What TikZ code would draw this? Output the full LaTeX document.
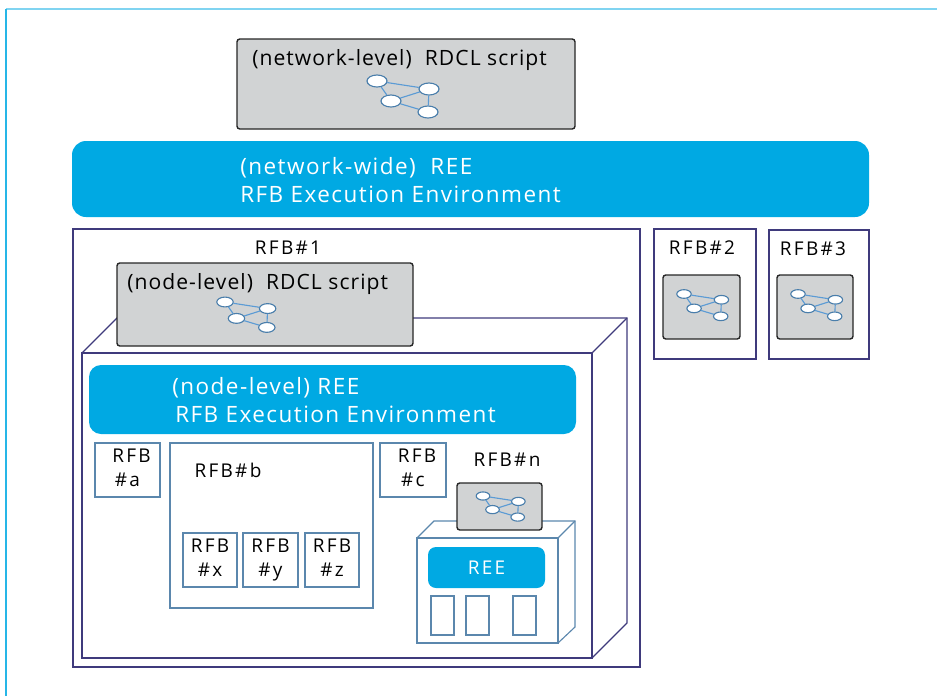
\documentclass[tikz,border=0pt]{standalone}
\usepackage{fontspec}
\setmainfont{Open Sans}
\usetikzlibrary{shapes.geometric}

\definecolor{reecyan}{HTML}{00A9E3}
\definecolor{scriptgray}{HTML}{D1D3D4}
\definecolor{outerline}{HTML}{3F3A7C}
\definecolor{innerline}{HTML}{5B87AD}
\definecolor{glyphline}{HTML}{5B9BD5}
\definecolor{glyphrim}{HTML}{4A7EAB}

\newcommand{\rfbfont}{\fontsize{13.5}{17}\selectfont\addfontfeature{LetterSpace=12}}

\tikzset{
	outerbox/.style={rectangle,draw=outerline,line width=.8pt,outer sep=0pt,above right},
	innerbox/.style={rectangle,draw=innerline,line width=.8pt,outer sep=0pt,above right,align=center,text depth=3pt,font=\rfbfont},
	scriptbox/.style={rectangle,draw=black!85,fill=scriptgray,rounded corners=2pt,line width=1pt,outer sep=0pt,above right},
	reebox/.style={rectangle,fill=reecyan,rounded corners=.35cm,outer sep=0pt,above right},
	reetext/.style={anchor=west,inner sep=0pt,align=left,text=white,font=\fontsize{16}{20}\selectfont\addfontfeature{LetterSpace=6.5}},
	scripttext/.style={anchor=west,inner sep=0pt,font=\fontsize{15}{17}\selectfont\addfontfeature{LetterSpace=5}},
	rfblabel/.style={inner sep=0pt,font=\rfbfont},
	glyphdot/.style={ellipse,draw=glyphrim,fill=white,line width=.8pt,inner sep=0pt,minimum width=.5cm,minimum height=.3cm,transform shape},
	glyphedge/.style={glyphline,line width=.8pt}
}

% small graph drawn inside a script box
\newcommand{\netglyph}[4]{
	\begin{scope}[shift={(#2,#3)},scale=#4]
		\node[glyphdot] (#1a) at (0,0) {};
		\node[glyphdot] (#1b) at (1.3,-.2) {};
		\node[glyphdot] (#1c) at (.35,-.5) {};
		\node[glyphdot] (#1d) at (1.275,-.775) {};
		\draw[glyphedge] (#1a) -- (#1b);
		\draw[glyphedge] (#1a) -- (#1c);
		\draw[glyphedge] (#1c) -- (#1b);
		\draw[glyphedge] (#1c) -- (#1d);
		\draw[glyphedge] (#1b) -- (#1d);
	\end{scope}
}

\begin{document}
\begin{tikzpicture}
	\useasboundingbox (0,0) rectangle (23.425,-17.4);

	% page frame
	\draw[reecyan!50,line width=.8pt] (23.425,-.225) -- (.15,-.225);
	\draw[reecyan!85,line width=.8pt] (.15,-.225) -- (.15,-17.4);

	% network level
	\node[scriptbox,minimum width=8.45cm,minimum height=2.25cm] (netscript) at (5.925,-3.225) {};
	\node[scripttext] (netscripttext) at (6.3,-1.5) {(network-level)\ \ RDCL script};
	\netglyph{net}{9.425}{-2.025}{1}
	\node[reebox,minimum width=19.925cm,minimum height=1.9cm] (netree) at (1.8,-5.425) {};
	\node[reetext] (netreetext) at (6,-4.5) {(network-wide)\ \ REE\\RFB Execution Environment};

	% RFB#1 and its cabinet
	\node[outerbox,minimum width=14.175cm,minimum height=10.95cm] (rfbone) at (1.825,-16.675) {};
	\node[rfblabel] (rfbonetext) at (7.2,-6.2) {RFB\#1};
	\node[outerbox,minimum width=12.75cm,minimum height=7.625cm] (cabinet) at (2.05,-16.45) {};
	\coordinate (cabinettl) at (2.925,-7.95);
	\coordinate (cabinettr) at (15.675,-7.95);
	\coordinate (cabinetbr) at (15.675,-15.575);
	\draw[outerline,line width=.8pt] (cabinet.north west) -- (cabinettl) -- (cabinettr) -- (cabinetbr) -- (cabinet.south east);
	\draw[outerline,line width=.8pt] (cabinet.north east) -- (cabinettr);

	\node[scriptbox,minimum width=7.4cm,minimum height=2.075cm] (nodescript) at (2.925,-8.65) {};
	\node[scripttext] (nodescripttext) at (3.175,-7.1) {(node-level)\ \ RDCL script};
	\netglyph{node}{5.625}{-7.55}{.82}
	\node[reebox,rounded corners=.3cm,minimum width=12.175cm,minimum height=1.725cm] (noderee) at (2.225,-10.85) {};
	\node[reetext] (nodereetext) at (4.375,-10) {\hspace*{-.075cm}(node-level) REE\\RFB Execution Environment};

	% inner RFBs
	\node[innerbox,minimum width=1.625cm,minimum height=1.35cm] (rfba) at (2.375,-12.425) {\hspace*{.2cm}RFB\\\#a};
	\node[innerbox,minimum width=5.075cm,minimum height=4.125cm] (rfbb) at (4.25,-15.2) {};
	\node[rfblabel] (rfbbtext) at (5.7,-11.75) {RFB\#b};
	\node[innerbox,minimum width=1.35cm,minimum height=1.35cm] (rfbx) at (4.575,-14.675) {RFB\\\#x};
	\node[innerbox,minimum width=1.375cm,minimum height=1.35cm] (rfby) at (6.075,-14.675) {RFB\\\#y};
	\node[innerbox,minimum width=1.35cm,minimum height=1.35cm] (rfbz) at (7.625,-14.675) {RFB\\\#z};
	\node[innerbox,minimum width=1.65cm,minimum height=1.35cm] (rfbc) at (9.5,-12.425) {\hspace*{.2cm}RFB\\\#c};

	% RFB#n
	\node[rfblabel] (rfbntext) at (12.675,-11.5) {RFB\#n};
	\node[innerbox,minimum width=3.525cm,minimum height=2.625cm] (smallbox) at (10.425,-16.075) {};
	\coordinate (smalltl) at (10.85,-13.025);
	\coordinate (smalltr) at (14.375,-13.025);
	\coordinate (smallbr) at (14.375,-15.675);
	\draw[innerline,line width=.8pt] (smallbox.north west) -- (smalltl) -- (smalltr) -- (smallbr) -- (smallbox.south east);
	\draw[innerline,line width=.8pt] (smallbox.north east) -- (smalltr);
	\node[scriptbox,minimum width=2.125cm,minimum height=1.175cm] (nscript) at (11.425,-13.25) {};
	\netglyph{rfbn}{12.075}{-12.4}{.68}
	\node[reebox,rounded corners=.2cm,text=white,font=\rfbfont,minimum width=2.925cm,minimum height=1.025cm] (smallree) at (10.7,-14.7) {REE};
	\node[innerbox,minimum width=.575cm,minimum height=.975cm] (winone) at (10.775,-15.875) {};
	\node[innerbox,minimum width=.575cm,minimum height=.975cm] (wintwo) at (11.65,-15.875) {};
	\node[innerbox,minimum width=.575cm,minimum height=.975cm] (winthree) at (12.825,-15.875) {};

	% RFB#2 and RFB#3
	\node[outerbox,minimum width=2.55cm,minimum height=3.25cm] (rfbtwo) at (16.35,-8.975) {};
	\node[rfblabel] (rfbtwotext) at (17.55,-6.2) {RFB\#2};
	\node[scriptbox,minimum width=1.925cm,minimum height=1.6cm] (twoscript) at (16.575,-8.475) {};
	\netglyph{two}{17.1}{-7.35}{.72}
	\node[outerbox,minimum width=2.5cm,minimum height=3.225cm] (rfbthree) at (19.225,-8.975) {};
	\node[rfblabel] (rfbthreetext) at (20.325,-6.225) {RFB\#3};
	\node[scriptbox,minimum width=1.9cm,minimum height=1.6cm] (threescript) at (19.425,-8.475) {};
	\netglyph{three}{19.95}{-7.35}{.72}
\end{tikzpicture}
\end{document}
